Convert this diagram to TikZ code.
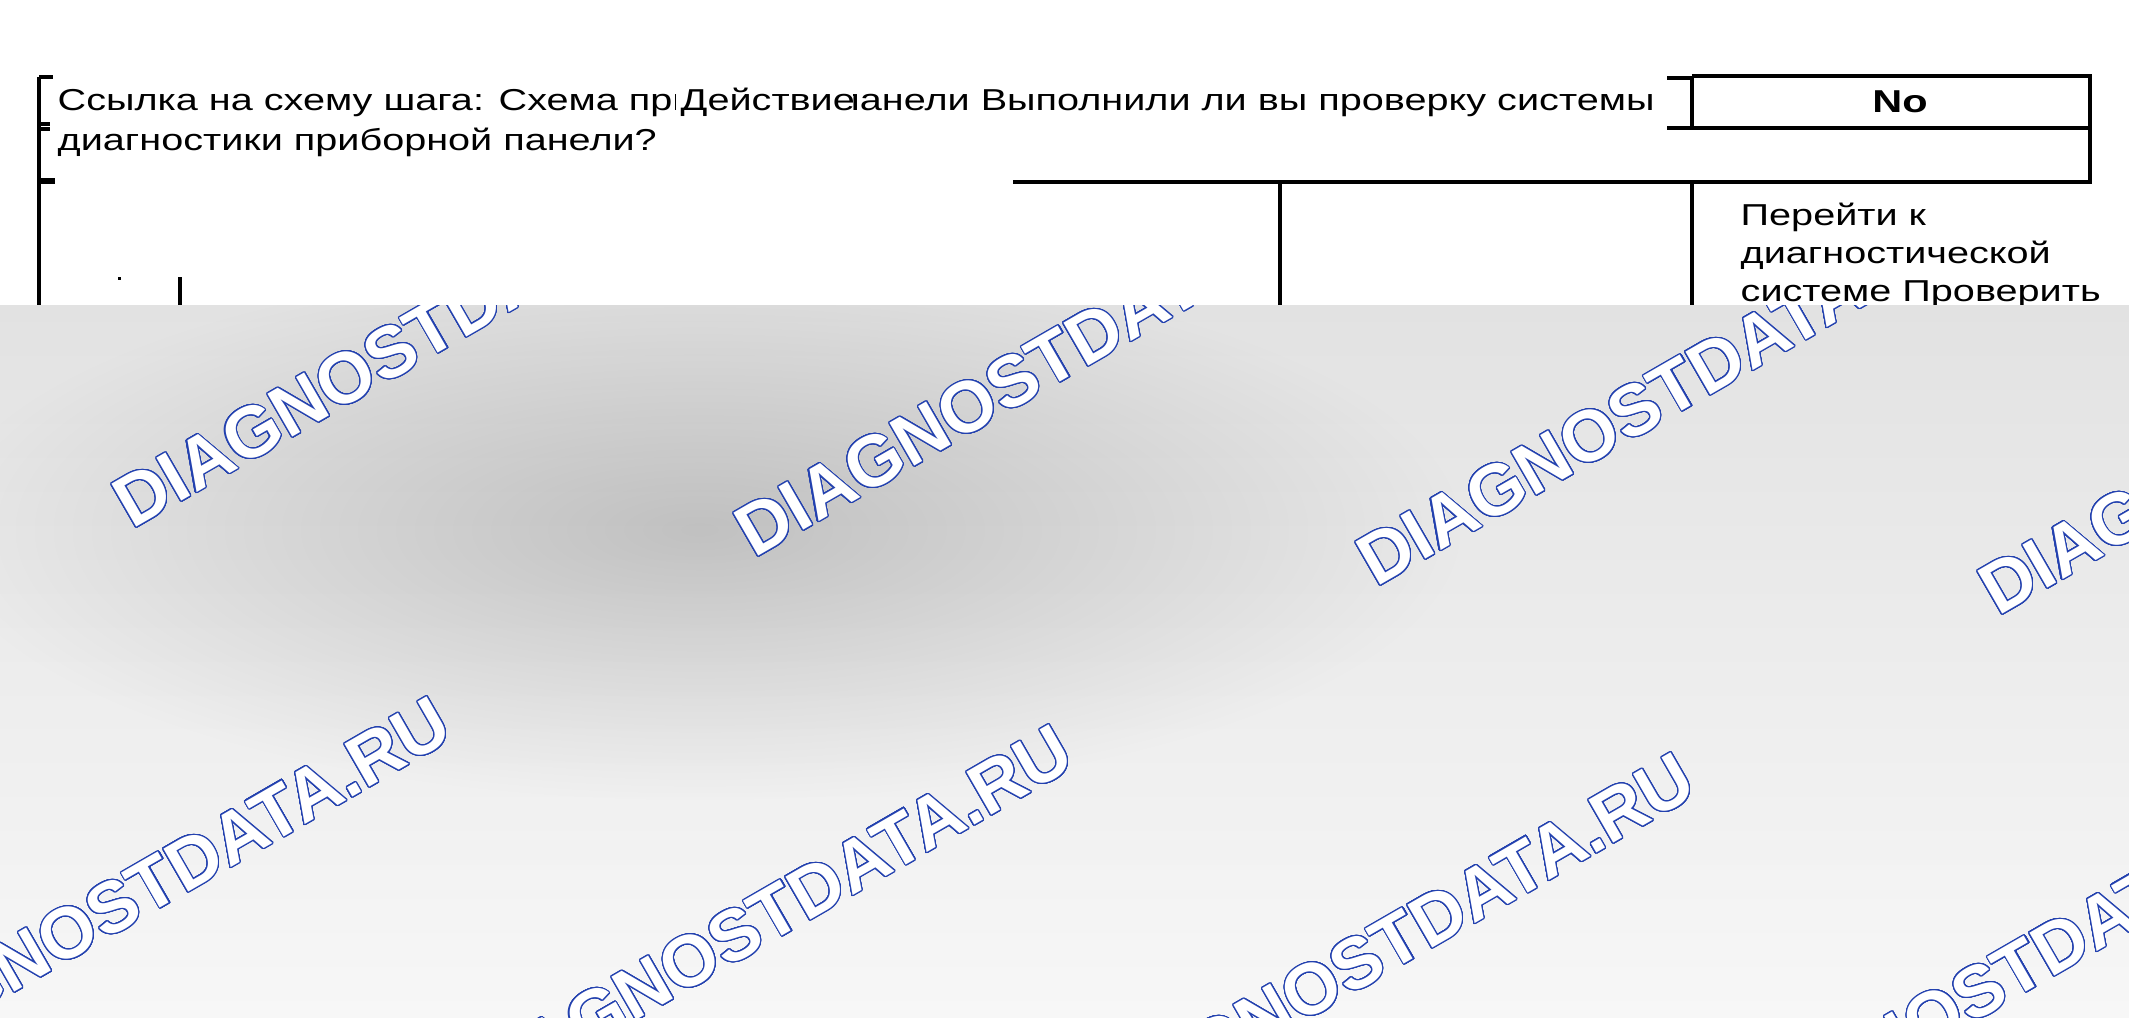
\documentclass[tikz,border=0pt]{standalone}
\usepackage{fontspec}
\setmainfont{Liberation Sans}
\newfontfamily\tabfont[FakeStretch=1.31]{Liberation Sans}
\newfontfamily\wmfont{Liberation Sans}
\usepackage{contour}
\contourlength{0.32pt}
\contournumber{32}
\usetikzlibrary{positioning}
\definecolor{wmblue}{RGB}{35,65,175}
\definecolor{paneltop}{RGB}{226,226,226}
\definecolor{panelbot}{RGB}{247,247,247}

\begin{document}
\begin{tikzpicture}[x=0.01cm, y=-0.01cm,
    cell/.style = {inner sep=0pt, font=\tabfont\fontsize{8.6}{11.4}\selectfont},
    rule/.style = {line width=1.4pt},
    wmark/.style = {inner sep=0pt, text=white, rotate=30, anchor=base west,
                    font=\wmfont\bfseries\fontsize{20.5}{24}\selectfont}]
    \useasboundingbox (0,0) rectangle (2129,1017);
    \fill[white] (0,0) rectangle (2129,1017);

    \node[cell, anchor=base west] (q1) at (57,110)  {Ссылка на схему шага: Схема приборной панели Выполнили ли вы проверку системы};
    \node[cell, anchor=base west] (q2) at (57,150)  {диагностики приборной панели?};
    \fill[white] (676,78) rectangle (853,122);
    \node[cell, anchor=base west] (act) at (680,110) {Действие};
    \node[cell, font=\tabfont\bfseries\fontsize{9}{10}\selectfont] (no) at (1900,102) {No};
    \node[cell, anchor=base west, align=left, font=\tabfont\fontsize{8.6}{10.8}\selectfont] (go) at (1740,301)
        {Перейти к\\диагностической\\системе Проверить};

    \draw[rule] (39,77) -- (39,305);
    \draw[line width=0.9pt] (39,77) -- (53,77);
    \draw[line width=0.9pt] (39,124) -- (50,124);
    \draw[line width=0.9pt] (39,129) -- (50,129);
    \draw[line width=1.5pt] (37,181) -- (55,181);
    \fill (117.5,276.5) rectangle (120.5,279.5);
    \draw[rule] (180,277) -- (180,305);

    \draw[rule] (1667,78) -- (1692,78);
    \draw[rule] (1692,76) -- (2090,76) -- (2090,182) -- (1013,182);
    \draw[rule] (1667,128) -- (2090,128);
    \draw[rule] (1692,76) -- (1692,128);
    \draw[rule] (1692,182) -- (1692,305);
    \draw[rule] (1280,182) -- (1280,305);

    \shade[top color=paneltop, bottom color=panelbot] (0,305) rectangle (2129,1017);
    \begin{scope}
        \clip (0,305) rectangle (2129,1017);
        \foreach \i in {1,...,40}
            \fill[black, opacity=0.0035] (700,530) ellipse [x radius={\i*7.6cm/40}, y radius={\i*2.7cm/40}];
        \foreach \i in {1,...,30}
            \fill[white, opacity=0.014] (-50,600) ellipse [x radius={\i*2.5cm/30}, y radius={\i*4.5cm/30}];
        \foreach \i in {1,...,30}
            \fill[white, opacity=0.02] (1100,1050) ellipse [x radius={\i*10cm/30}, y radius={\i*3cm/30}];
        \foreach \k in {0,...,3} {
            \node[wmark] (w\k) at ({132+622*\k},{530+29*\k}) {\contour{wmblue}{DIAGNOSTDATA.RU}};
            \node[wmark] (v\k) at ({-146+622*\k},{1085+28*\k}) {\contour{wmblue}{DIAGNOSTDATA.RU}};
        }
    \end{scope}
\end{tikzpicture}
\end{document}
